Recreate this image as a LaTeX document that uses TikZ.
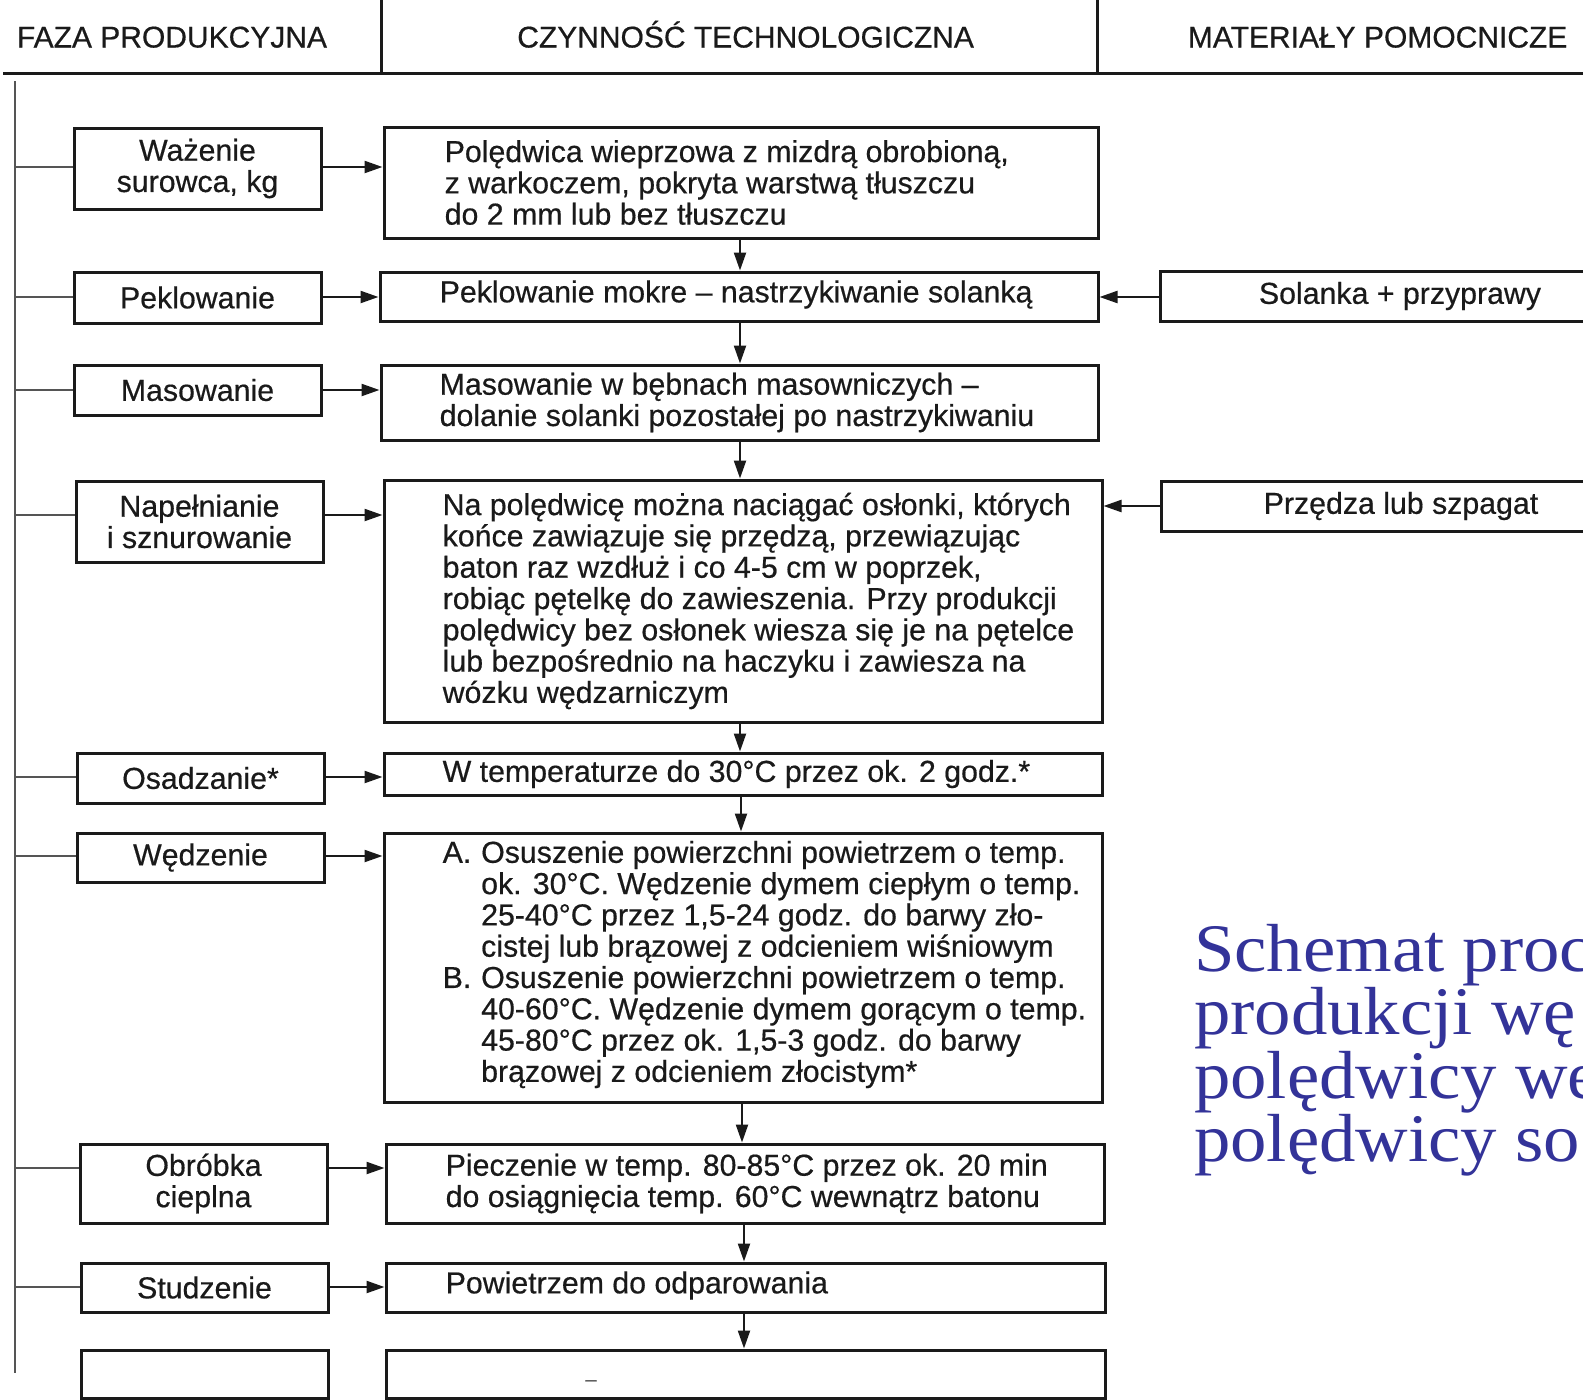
\documentclass[tikz,border=0pt]{standalone}
\usepackage{fontspec}
\setmainfont{Liberation Sans}[FakeBold=0.5]
\newfontfamily\titlefont{Liberation Serif}[FakeStretch=1.07]
\usetikzlibrary{arrows.meta,calc}
\definecolor{ink}{HTML}{1A1A1A}
\definecolor{spinegray}{HTML}{555555}
\definecolor{titleblue}{HTML}{333399}
\begin{document}
\begin{tikzpicture}[x=1pt,y=-1pt,
  bx/.style={draw=ink, line width=3pt, inner sep=0pt, text=ink,
    font=\fontsize{30.3}{31.3}\selectfont, align=center},
  lbox/.style={bx, minimum width=247pt},
  mbox/.style={bx, minimum width=718pt},
  rbox/.style={bx, minimum width=480pt},
  mtxt/.style={inner sep=0pt, anchor=west, align=left, text=ink,
    font=\fontsize{30.3}{31.3}\selectfont},
  htxt/.style={inner sep=0pt, anchor=base, text=ink, font=\fontsize{30}{31}\selectfont},
  arr/.style={draw=ink, line width=2.3pt, -{Triangle[length=18pt,width=12pt]}},
  branch/.style={draw=spinegray, line width=1.6pt},
  rule/.style={draw=ink, line width=3pt},
  ttl/.style={inner sep=0pt, anchor=base west, text=titleblue,
    font=\titlefont\fontsize{68}{68}\selectfont}
]
\useasboundingbox (0,0) rectangle (1583,1400);
\fill[white] (0,0) rectangle (1583,1400);

% header
\coordinate (hl) at (3,73);
\coordinate (hr) at (1583,73);
\coordinate (v1t) at (381.6,0);
\coordinate (v2t) at (1097.4,0);
\draw[rule] (hl) -- (hr);
\draw[rule] (v1t) -- (v1t |- hl);
\draw[rule] (v2t) -- (v2t |- hl);
\node[htxt] (h1) at (172,47.5) {FAZA PRODUKCYJNA};
\node[htxt] (h2) at (745.6,47.5) {CZYNNOŚĆ TECHNOLOGICZNA};
\node[htxt] (h3) at (1377.6,47.5) {MATERIAŁY POMOCNICZE};

% left boxes
\node[lbox, minimum height=81pt] (L1) at (197.5,168.5) {Ważenie\\surowca, kg};
\node[lbox, minimum height=51pt] (L2) at (197.5,297.5) {Peklowanie};
\node[lbox, minimum height=50pt] (L3) at (197.5,390) {Masowanie};
\node[lbox, minimum height=81pt] (L4) at (199.5,521.5) {Napełnianie\\i sznurowanie};
\node[lbox, minimum height=50pt] (L5) at (200.5,778) {Osadzanie*};
\node[lbox, minimum height=49pt] (L6) at (200.5,857.5) {Wędzenie};
\node[lbox, minimum height=79pt] (L7) at (203.5,1183.5) {Obróbka\\cieplna};
\node[lbox, minimum height=49pt] (L8) at (204.5,1287.5) {Studzenie};
\node[lbox, minimum height=48pt] (L9) at (204.5,1374) {};

% middle boxes
\node[mbox, minimum width=714pt, minimum height=111pt] (M1) at (741,182.5) {};
\node[mbox, minimum height=49pt] (M2) at (739,296.5) {};
\node[mbox, minimum width=717pt, minimum height=75pt] (M3) at (739.5,402.5) {};
\node[mbox, minimum height=242pt] (M4) at (743,601) {};
\node[mbox, minimum height=42pt] (M5) at (743,774) {};
\node[mbox, minimum height=269pt] (M6) at (743,967.5) {};
\node[mbox, minimum height=79pt] (M7) at (745,1183.5) {};
\node[mbox, minimum width=719pt, minimum height=49pt] (M8) at (745.5,1287.5) {};
\node[mbox, minimum width=719pt, minimum height=48pt] (M9) at (745.5,1374) {};

% middle texts
\node[mtxt] (T1) at ($(M1.west)+(62,0)$) {Polędwica wieprzowa z mizdrą obrobioną,\\z warkoczem, pokryta warstwą tłuszczu\\do 2 mm lub bez tłuszczu};
\node[mtxt] (T2) at ($(M2.west)+(61,-2)$) {Peklowanie mokre – nastrzykiwanie solanką};
\node[mtxt] (T3) at ($(M3.west)+(60,0)$) {Masowanie w bębnach masowniczych –\\dolanie solanki pozostałej po nastrzykiwaniu};
\node[mtxt] (T4) at ($(M4.west)+(60,0)$) {Na polędwicę można naciągać osłonki, których\\końce zawiązuje się przędzą, przewiązując\\baton raz wzdłuż i co 4-5 cm w poprzek,\\robiąc pętelkę do zawieszenia. Przy produkcji\\polędwicy bez osłonek wiesza się je na pętelce\\lub bezpośrednio na haczyku i zawiesza na\\wózku wędzarniczym};
\node[mtxt] (T5) at ($(M5.west)+(60,0)$) {W temperaturze do 30°C przez ok. 2 godz.*};
\node[mtxt] (T6) at ($(M6.west)+(60,-3)$) {\makebox[38.5pt][l]{A.}Osuszenie powierzchni powietrzem o temp.\\\hspace*{38.5pt}ok. 30°C. Wędzenie dymem ciepłym o temp.\\\hspace*{38.5pt}25-40°C przez 1,5-24 godz. do barwy zło-\\\hspace*{38.5pt}cistej lub brązowej z odcieniem wiśniowym\\\makebox[38.5pt][l]{B.}Osuszenie powierzchni powietrzem o temp.\\\hspace*{38.5pt}40-60°C. Wędzenie dymem gorącym o temp.\\\hspace*{38.5pt}45-80°C przez ok. 1,5-3 godz. do barwy\\\hspace*{38.5pt}brązowej z odcieniem złocistym*};
\node[mtxt] (T7) at ($(M7.west)+(61,0)$) {Pieczenie w temp. 80-85°C przez ok. 20 min\\do osiągnięcia temp. 60°C wewnątrz batonu};
\node[mtxt] (T8) at ($(M8.west)+(61,-2)$) {Powietrzem do odparowania};
\node[inner sep=0pt, text=ink!70, font=\fontsize{20}{20}\selectfont] (T9) at (591,1383) {–};

% right boxes
\node[rbox, minimum height=50pt] (R2) at (1400,296) {Solanka + przyprawy};
\node[rbox, minimum height=50pt] (R4) at (1401,506) {Przędza lub szpagat};

% spine and branches
\coordinate (sTop) at (15,81);
\coordinate (sBot) at (15,1373);
\draw[branch, line width=2pt] (sTop) -- (sBot);
\coordinate (r1) at (0,167);
\coordinate (r2) at (0,297);
\coordinate (r3) at (0,390);
\coordinate (r4) at (0,515);
\coordinate (r5) at (0,777);
\coordinate (r6) at (0,856);
\coordinate (r7) at (0,1168);
\coordinate (r8) at (0,1287);
\foreach \i in {1,...,8}{
  \draw[branch] (sTop |- r\i) -- (L\i.west |- r\i);
  \draw[arr] (L\i.east |- r\i) -- (M\i.west |- r\i);
}

% material arrows
\coordinate (m2) at (0,297);
\coordinate (m4) at (0,506);
\draw[arr] (R2.west |- m2) -- (M2.east |- m2);
\draw[arr] (R4.west |- m4) -- (M4.east |- m4);

% down arrows
\coordinate (d1) at (740,0);
\coordinate (d2) at (740,0);
\coordinate (d3) at (740,0);
\coordinate (d4) at (740,0);
\coordinate (d5) at (741,0);
\coordinate (d6) at (742,0);
\coordinate (d7) at (744,0);
\coordinate (d8) at (744,0);
\draw[arr] (M1.south -| d1) -- (M2.north -| d1);
\draw[arr] (M2.south -| d2) -- (M3.north -| d2);
\draw[arr] (M3.south -| d3) -- (M4.north -| d3);
\draw[arr] (M4.south -| d4) -- (M5.north -| d4);
\draw[arr] (M5.south -| d5) -- (M6.north -| d5);
\draw[arr] (M6.south -| d6) -- (M7.north -| d6);
\draw[arr] (M7.south -| d7) -- (M8.north -| d7);
\draw[arr] (M8.south -| d8) -- (M9.north -| d8);

% title
\node[ttl] (t1) at (1194,971) {Schemat proc};
\node[ttl] (t2) at (1194,1034) {produkcji wę};
\node[ttl] (t3) at (1194,1098) {polędwicy we};
\node[ttl] (t4) at (1194,1161) {polędwicy so};
\end{tikzpicture}
\end{document}
